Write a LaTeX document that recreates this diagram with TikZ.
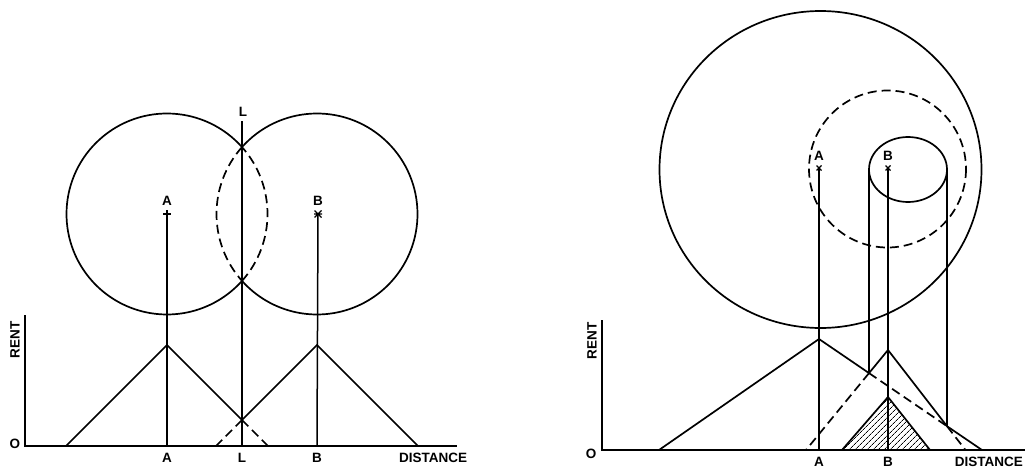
\documentclass[tikz,border=0pt]{standalone}
\usepackage{fontspec}
\setmainfont{Liberation Sans}
\usetikzlibrary{patterns.meta}
\begin{document}
\begin{tikzpicture}[x=1pt,y=-1pt,
  lbl/.style={font=\fontsize{13.5}{14}\selectfont\bfseries, inner sep=0pt},
  axisline/.style={line width=2pt},
  curve/.style={line width=1.7pt},
  vline/.style={line width=1.5pt},
  dashline/.style={line width=1.7pt, dash pattern=on 9pt off 5pt},
  marker/.style={line width=1.2pt}]
\useasboundingbox (0,0) rectangle (1025,471);
\clip (0,0) rectangle (1025,471);

% ================= LEFT PANEL =================
\coordinate (yTopL) at (25,315);
\coordinate (oL) at (25,446);
\coordinate (xEndL) at (457,446);
\draw[axisline] (yTopL) -- (oL) -- (xEndL);
\node[lbl] (O1) at (15,444) {O};
\node[lbl, rotate=90] (R1) at (15,340) {RENT};
\node[lbl] (bA1) at (167,458) {A};
\node[lbl] (bL1) at (242,458) {L};
\node[lbl] (bB1) at (317,458) {B};
\node[lbl] (D1) at (433,458) {DISTANCE};
\node[lbl] (tL1) at (243,112) {L};
\node[lbl] (tA1) at (167,201) {A};
\node[lbl] (tB1) at (318,201) {B};

% circles (y axis flipped: image-up is negative angle)
\coordinate (Itop) at (242,147.1);
\coordinate (Ibot) at (242,280.9);
\draw[curve] (Itop) arc[start angle=-41.73, end angle=-318.27, radius=100.5];
\draw[dashline] (Ibot) arc[start angle=41.73, end angle=-41.73, radius=100.5];
\draw[curve] (Itop) arc[start angle=-138.27, end angle=138.27, radius=100.5];
\draw[dashline] (Itop) arc[start angle=-138.27, end angle=-221.73, radius=100.5];

% markers
\coordinate (mA1) at (167,214);
\coordinate (mB1) at (318,214);
\draw[marker] (163,214) -- (171,214) (167,210) -- (167,218);
\draw[marker] (314.5,210.5) -- (321.5,217.5) (314.5,217.5) -- (321.5,210.5) (314,214) -- (322,214);

% vertical lines
\coordinate (aA1) at (167,446);
\coordinate (aB1) at (317,446);
\coordinate (Ltop) at (242,121);
\coordinate (Lbot) at (242,446);
\draw[vline] (mA1) -- (aA1);
\draw[vline] (mB1) -- (aB1);
\draw[line width=1.8pt] (Ltop) -- (Lbot);

% rent triangles
\coordinate (pA1) at (167,345);
\coordinate (sA1) at (66,446);
\coordinate (eA1) at (268,446);
\coordinate (X1) at (242,420);
\coordinate (pB1) at (317,345);
\coordinate (sB1) at (216,446);
\coordinate (eB1) at (418,446);
\draw[curve] (sA1) -- (pA1) -- (X1) -- (pB1) -- (eB1);
\draw[dashline] (X1) -- (eA1);
\draw[dashline] (X1) -- (sB1);

% ================= RIGHT PANEL =================
\coordinate (yTopR) at (602,320);
\coordinate (oR) at (602,450);
\coordinate (xEndR) at (1030,450);
\draw[axisline] (yTopR) -- (oR) -- (xEndR);
\node[lbl] (O2) at (591,454) {O};
\node[lbl, rotate=90] (R2) at (592,341) {RENT};
\node[lbl] (bA2) at (819,462) {A};
\node[lbl] (bB2) at (888,462) {B};
\node[lbl, anchor=east] (D2) at (1023,462) {DISTANCE};
\node[lbl] (tA2) at (819,156) {A};
\node[lbl] (tB2) at (888,156) {B};

% circles
\draw[curve] (820.5,169.5) ellipse[x radius=161, y radius=158.5];
\draw[dashline] (887.5,169) circle[radius=78.5];
\draw[curve] (908,169.5) ellipse[x radius=39, y radius=32.5];

% markers
\coordinate (mA2) at (819,168);
\coordinate (mB2) at (888,168);
\draw[marker] (816.5,165.5) -- (821.5,170.5) (816.5,170.5) -- (821.5,165.5);
\draw[marker] (885.5,165.5) -- (890.5,170.5) (885.5,170.5) -- (890.5,165.5);

% rent curves
\coordinate (pA2) at (819,339);
\coordinate (sA2) at (659,450);
\coordinate (eA2) at (982,450);
\coordinate (pB2) at (888,350);
\coordinate (sB2) at (806,450);
\coordinate (eB2) at (965.5,450);
\coordinate (V2) at (869,373.1);
\coordinate (X2) at (947,426.2);
\coordinate (eL2) at (869,169.5);
\coordinate (eR2) at (947,169.5);

% hatched triangle
\coordinate (hT) at (888,397);
\coordinate (hL) at (842,450);
\coordinate (hR) at (930,450);
\fill[pattern={Lines[angle=45, distance=4pt, line width=0.7pt]}] (hL) -- (hT) -- (hR) -- cycle;
\draw[curve, line join=miter] (hL) -- (hT) -- (hR);

% verticals
\coordinate (aA2) at (819,450);
\coordinate (aB2) at (888,450);
\draw[vline] (mA2) -- (aA2);
\draw[vline] (mB2) -- (aB2);
\draw[vline] (eL2) -- (V2);
\draw[vline] (eR2) -- (X2);

\draw[curve] (sA2) -- (pA2) -- (V2) -- (pB2) -- (X2) -- (eA2);
\draw[dashline] (V2) -- (sB2);
\draw[dashline] (V2) -- (X2);
\draw[dashline] (X2) -- (eB2);
\end{tikzpicture}
\end{document}
